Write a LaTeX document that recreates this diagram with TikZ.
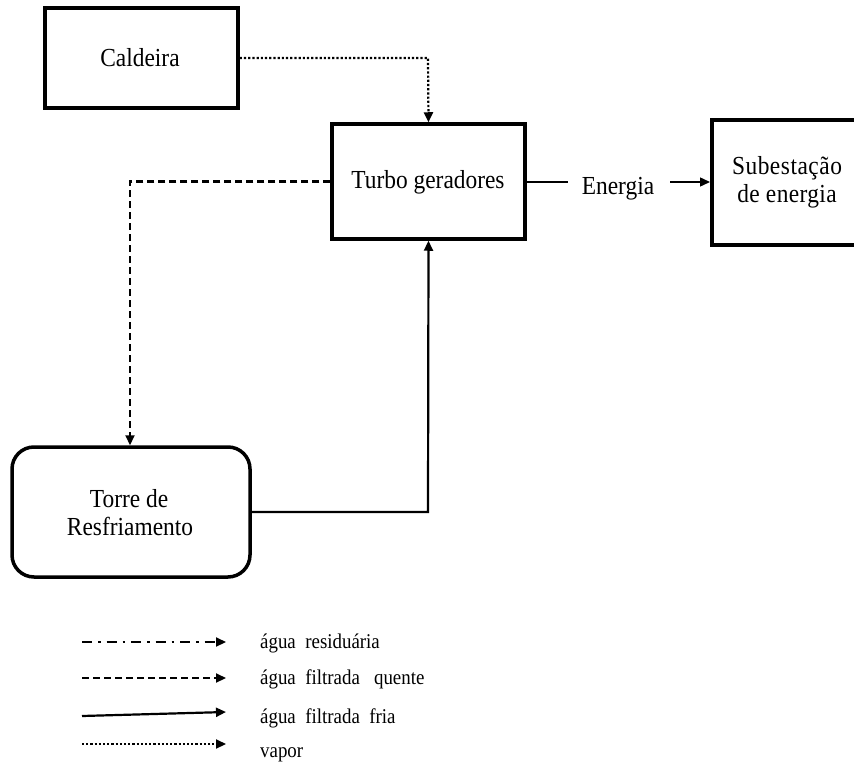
\documentclass[tikz,border=0pt]{standalone}
\usepackage{fontspec}
\setmainfont[FakeStretch=0.9]{Liberation Serif}
\usetikzlibrary{arrows.meta}
\begin{document}
\begin{tikzpicture}[x=1pt,y=-1pt,
  blockbox/.style={draw,line width=3.5pt,inner sep=0pt},
  blocktext/.style={anchor=base,inner sep=0pt,font=\fontsize{26}{30}\selectfont,align=center},
  flow/.style={line width=2.2pt},
  tip/.style={-{Triangle[length=10pt,width=9pt]}},
  steam/.style={flow,dash pattern=on 2.2pt off 2pt},
  hotwater/.style={flow,dash pattern=on 7pt off 4pt},
  wastewater/.style={flow,dash pattern=on 10pt off 6pt on 2.5pt off 6pt},
  legtext/.style={anchor=base west,font=\fontsize{21}{24}\selectfont,inner sep=0pt}]
\useasboundingbox (0,0) rectangle (854,767);

% process blocks
\node[blockbox,minimum width=193pt,minimum height=100pt] (cald) at (141.5,58) {};
\node[blocktext] (caldtxt) at (140,67) {Caldeira};
\node[blockbox,minimum width=193pt,minimum height=115pt] (turbo) at (428.5,181.5) {};
\node[blocktext] (turbotxt) at (428,189) {Turbo geradores};
\node[blockbox,minimum width=150pt,minimum height=125pt,anchor=west] (sub) at (710,182.5) {};
\node[blocktext,font=\fontsize{26}{30}\selectfont\addfontfeature{LetterSpace=2}] (subtxt1) at (787,175) {Subestação};
\node[blocktext,font=\fontsize{26}{30}\selectfont\addfontfeature{LetterSpace=1.5}] (subtxt2) at (787,203) {de energia};
\node[blockbox,rounded corners=22pt,minimum width=238pt,minimum height=130pt] (torre) at (131,512) {};
\node[blocktext] (torretxt1) at (129,507) {Torre de};
\node[blocktext] (torretxt2) at (130,535) {Resfriamento};
\node[blocktext] (ener) at (618,195) {Energia};

% flows between blocks
\coordinate (c1) at (428,58);
\draw[steam,tip] (cald.east) -- (c1) -- (turbo.north);
\coordinate (c2) at (130,181.5);
\draw[hotwater,tip] (turbo.west) -- (c2) -- (c2 |- torre.north);
\coordinate (c3) at (428,512);
\draw[flow,tip] (torre.east) -- (c3) -- (turbo.south);
\coordinate (e1) at (568,182);
\coordinate (e2) at (670,182);
\draw[line width=1.4pt] (turbo.east |- e1) -- (e1);
\draw[line width=1.4pt,tip] (e2) -- (sub.west |- e2);

% legend
\coordinate (l1a) at (82,642); \coordinate (l1b) at (226,642);
\coordinate (l2a) at (82,678); \coordinate (l2b) at (226,678);
\coordinate (l3a) at (82,716); \coordinate (l3b) at (226,712);
\coordinate (l4a) at (82,744); \coordinate (l4b) at (226,744);
\draw[wastewater,tip] (l1a) -- (l1b);
\draw[hotwater,tip] (l2a) -- (l2b);
\draw[flow,tip] (l3a) -- (l3b);
\draw[steam,tip] (l4a) -- (l4b);
\node[legtext] (t1) at (260,648) {água\ \ residuária};
\node[legtext] (t2) at (260,684) {água\ \ filtrada\ \ \ quente};
\node[legtext] (t3) at (260,723) {água\ \ filtrada\ \ fria};
\node[legtext] (t4) at (260,757) {vapor};
\end{tikzpicture}
\end{document}
